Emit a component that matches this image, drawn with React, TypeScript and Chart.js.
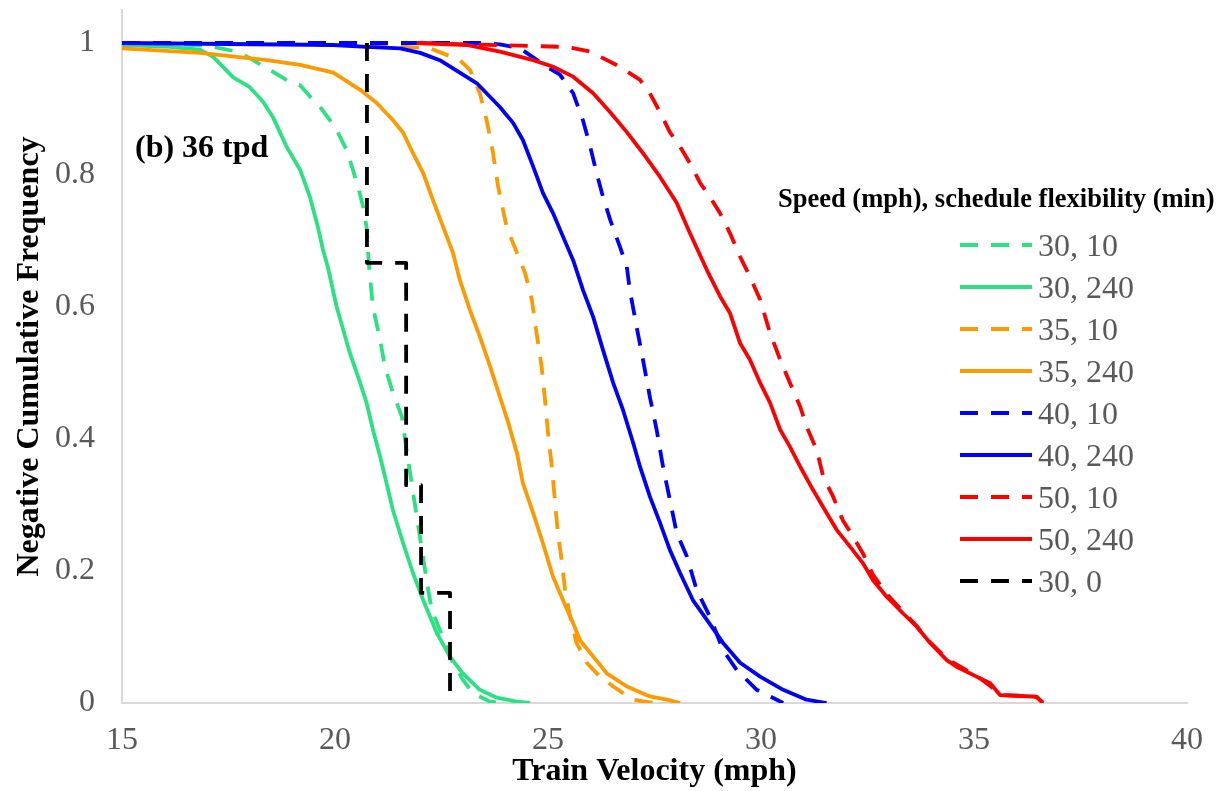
import React, { useEffect, useRef } from "react";
import { Chart, registerables } from "chart.js";

Chart.register(...registerables);

// ---------- data ----------
const seriesLabels = ["30, 10", "30, 240", "35, 10", "35, 240", "40, 10", "40, 240", "50, 10", "50, 240", "30, 0"];
const seriesColors = ["#2ae281", "#2ae281", "#ff9900", "#ff9900", "#0000ff", "#0000ff", "#ff0000", "#ff0000", "#000000"];
const seriesDashed = [true, false, true, false, true, false, true, false, true];

const xTickValues = [15, 20, 25, 30, 35, 40];
const yTickValues = [0, 0.2, 0.4, 0.6, 0.8, 1];

const xTitle = "Train Velocity (mph)";
const yTitle = "Negative Cumulative Frequency";
const legendTitle = "Speed (mph), schedule flexibility (min)";
const panelLabel = "(b) 36 tpd";

const s30_10: [number, number][] = [
  [15, 1], [16.67, 0.997], [17.07, 0.995], [17.69, 0.987], [18.0, 0.977], [18.47, 0.959], [18.94, 0.941],
  [19.18, 0.936], [19.48, 0.914], [19.65, 0.903], [19.88, 0.883], [20.04, 0.868], [20.27, 0.838], [20.42, 0.808],
  [20.54, 0.782], [20.66, 0.752], [20.74, 0.721], [20.8, 0.661], [20.89, 0.6], [21.06, 0.55], [21.17, 0.51],
  [21.36, 0.47], [21.57, 0.434], [21.68, 0.383], [21.8, 0.333], [21.92, 0.282], [22.04, 0.232], [22.15, 0.186],
  [22.27, 0.141], [22.46, 0.111], [22.7, 0.07], [23.0, 0.035], [23.24, 0.015], [23.64, 0.002], [23.94, 0],
];

const s30_240: [number, number][] = [
  [15, 0.997], [16.13, 0.994], [16.83, 0.99], [17.14, 0.979], [17.61, 0.948], [18.0, 0.933], [18.31, 0.911],
  [18.54, 0.888], [18.87, 0.842], [19.18, 0.808], [19.41, 0.767], [19.6, 0.721], [19.72, 0.686], [19.83, 0.661],
  [20.04, 0.6], [20.35, 0.53], [20.59, 0.485], [20.74, 0.455], [20.89, 0.414], [21.06, 0.373], [21.21, 0.333],
  [21.36, 0.292], [21.6, 0.242], [21.83, 0.197], [22.07, 0.156], [22.39, 0.106], [22.7, 0.07], [23.0, 0.045],
  [23.4, 0.02], [23.8, 0.008], [24.27, 0.002], [24.58, 0],
];

const s35_10: [number, number][] = [
  [15, 1], [19.95, 1], [22.23, 0.992], [22.93, 0.974], [23.17, 0.959], [23.4, 0.924], [23.56, 0.883],
  [23.71, 0.833], [23.83, 0.782], [24.03, 0.721], [24.27, 0.682], [24.46, 0.652], [24.62, 0.611], [24.73, 0.561],
  [24.85, 0.51], [24.93, 0.459], [25.0, 0.409], [25.09, 0.358], [25.16, 0.308], [25.23, 0.258], [25.32, 0.217],
  [25.4, 0.171], [25.52, 0.131], [25.67, 0.091], [25.91, 0.061], [26.14, 0.045], [26.53, 0.025], [27.0, 0.005],
  [27.46, 0],
];

const s35_240: [number, number][] = [
  [15, 0.992], [16.83, 0.985], [18.4, 0.974], [19.18, 0.967], [19.96, 0.955], [20.59, 0.929], [20.98, 0.909],
  [21.36, 0.883], [21.6, 0.864], [21.83, 0.833], [22.07, 0.803], [22.3, 0.762], [22.54, 0.721], [22.77, 0.682],
  [22.93, 0.641], [23.17, 0.595], [23.4, 0.555], [23.64, 0.51], [23.87, 0.464], [24.07, 0.424], [24.27, 0.379],
  [24.41, 0.333], [24.65, 0.288], [24.88, 0.242], [25.12, 0.191], [25.35, 0.156], [25.59, 0.121], [25.75, 0.095],
  [25.99, 0.076], [26.38, 0.045], [26.85, 0.025], [27.39, 0.01], [27.79, 0.005], [28.1, 0],
];

const s40_10: [number, number][] = [
  [15, 1], [23.4, 1], [23.87, 0.998], [24.34, 0.992], [24.97, 0.964], [25.28, 0.952], [25.59, 0.924],
  [25.82, 0.883], [25.99, 0.843], [26.14, 0.803], [26.29, 0.767], [26.46, 0.732], [26.69, 0.691], [26.85, 0.661],
  [26.92, 0.626], [27.08, 0.57], [27.23, 0.52], [27.39, 0.464], [27.55, 0.414], [27.7, 0.358], [27.86, 0.308],
  [28.02, 0.258], [28.26, 0.222], [28.49, 0.171], [28.8, 0.131], [29.11, 0.08], [29.43, 0.05], [29.9, 0.02],
  [30.52, 0],
];

const s40_240: [number, number][] = [
  [15, 1], [19.95, 0.997], [20.74, 0.994], [21.53, 0.992], [22.0, 0.985], [22.46, 0.974], [22.93, 0.955],
  [23.33, 0.939], [23.87, 0.903], [24.18, 0.879], [24.41, 0.853], [24.65, 0.813], [24.88, 0.773], [25.12, 0.742],
  [25.35, 0.707], [25.59, 0.671], [25.82, 0.626], [26.06, 0.585], [26.29, 0.535], [26.53, 0.485], [26.76, 0.444],
  [27.0, 0.394], [27.16, 0.358], [27.39, 0.313], [27.63, 0.273], [27.86, 0.232], [28.1, 0.197], [28.4, 0.156],
  [28.73, 0.126], [29.11, 0.091], [29.51, 0.061], [29.98, 0.04], [30.52, 0.02], [31.07, 0.005], [31.54, 0],
];

const s50_10: [number, number][] = [
  [21.92, 1], [25.44, 0.994], [25.99, 0.987], [26.69, 0.964], [27.16, 0.944], [27.39, 0.924], [27.63, 0.895],
  [27.86, 0.865], [28.1, 0.843], [28.33, 0.818], [28.57, 0.788], [28.8, 0.767], [29.04, 0.742], [29.27, 0.712],
  [29.51, 0.676], [29.74, 0.646], [29.98, 0.611], [30.21, 0.561], [30.45, 0.52], [30.68, 0.485], [30.92, 0.449],
  [31.07, 0.419], [31.31, 0.383], [31.46, 0.343], [31.69, 0.313], [31.92, 0.277], [32.16, 0.252], [32.39, 0.227],
  [32.63, 0.194], [32.95, 0.165], [33.33, 0.139], [33.65, 0.117], [33.97, 0.092], [34.36, 0.067], [35.06, 0.041],
  [35.38, 0.026], [35.61, 0.012], [36.0, 0.011], [36.47, 0.009], [36.62, 0],
];

const s50_240: [number, number][] = [
  [21.92, 1], [23.09, 0.997], [23.87, 0.987], [24.65, 0.974], [25.12, 0.964], [25.59, 0.949], [26.06, 0.924],
  [26.46, 0.895], [26.85, 0.865], [27.23, 0.833], [27.63, 0.797], [28.02, 0.758], [28.33, 0.712], [28.73, 0.656],
  [29.04, 0.616], [29.27, 0.591], [29.51, 0.545], [29.74, 0.52], [29.98, 0.485], [30.21, 0.455], [30.45, 0.414],
  [30.68, 0.388], [30.92, 0.358], [31.22, 0.323], [31.54, 0.288], [31.78, 0.262], [32.09, 0.237], [32.39, 0.212],
  [32.63, 0.186], [32.95, 0.161], [33.33, 0.136], [33.65, 0.116], [33.97, 0.091], [34.36, 0.065], [34.59, 0.055],
  [35.06, 0.04], [35.38, 0.03], [35.61, 0.012], [36.0, 0.011], [36.47, 0.0095], [36.62, 0],
];

const s30_0: [number, number][] = [
  [20.75, 1], [20.75, 0.667], [21.67, 0.667], [21.67, 0.33], [22.02, 0.33], [22.02, 0.167], [22.7, 0.167], [22.7, 0],
];

const seriesData = [s30_10, s30_240, s35_10, s35_240, s40_10, s40_240, s50_10, s50_240, s30_0];

// ---------- styling ----------
const SERIF = "'Liberation Serif', 'Times New Roman', serif";
const DASH = [18, 13];

const overlayPlugin = {
  id: "overlay",
  afterDraw(chart: any) {
    const ctx: CanvasRenderingContext2D = chart.ctx;
    ctx.save();
    ctx.textAlign = "left";
    ctx.textBaseline = "alphabetic";
    ctx.fillStyle = "#000000";
    ctx.font = `bold 32px ${SERIF}`;
    ctx.fillText(panelLabel, 135, 157);
    ctx.font = `bold 26.5px ${SERIF}`;
    ctx.fillText(legendTitle, 778, 207);
    chart.data.datasets.forEach((ds: any, i: number) => {
      const y = 245 + i * 42;
      ctx.beginPath();
      ctx.setLineDash(ds.borderDash || []);
      ctx.lineDashOffset = 0;
      ctx.lineCap = "butt";
      ctx.strokeStyle = ds.borderColor;
      ctx.lineWidth = 4;
      ctx.moveTo(960, y);
      ctx.lineTo(1032, y);
      ctx.stroke();
      ctx.setLineDash([]);
      ctx.font = `32px ${SERIF}`;
      ctx.fillStyle = "#595959";
      ctx.fillText(ds.label, 1038, y + 11);
    });
    ctx.restore();
  },
};

export default function App() {
  const ref = useRef<HTMLCanvasElement>(null);
  useEffect(() => {
    if (!ref.current) return;
    const n = seriesData.length;
    const datasets = seriesData.map((pts, i) => ({
      label: seriesLabels[i],
      data: pts.map(([x, y]) => ({ x, y })),
      borderColor: seriesColors[i],
      backgroundColor: seriesColors[i],
      borderWidth: 3.8,
      borderDash: seriesDashed[i] ? DASH : [],
      borderCapStyle: "butt" as const,
      borderJoinStyle: "round" as const,
      showLine: true,
      pointRadius: 0,
      pointHoverRadius: 0,
      fill: false,
      tension: 0,
      order: n - 1 - i,
    }));
    const chart = new Chart(ref.current, {
      type: "scatter",
      data: { datasets },
      options: {
        responsive: false,
        animation: false,
        events: [],
        layout: { padding: { top: 10, right: 38, left: 0, bottom: 0 } },
        plugins: { legend: { display: false }, tooltip: { enabled: false }, title: { display: false } },
        scales: {
          x: {
            type: "linear",
            min: 15,
            max: 40,
            afterBuildTicks: (scale: any) => {
              scale.ticks = xTickValues.map((v) => ({ value: v }));
            },
            afterFit: (scale: any) => {
              scale.height = 88;
              scale.paddingLeft = 0;
              scale.paddingRight = 0;
            },
            grid: { display: false, drawTicks: false },
            border: { display: true, color: "#d9d9d9", width: 2 },
            ticks: {
              color: "#595959",
              font: { family: SERIF, size: 32 },
              padding: 18,
              maxRotation: 0,
              autoSkip: false,
              callback: (v: any) => String(Number(v)),
            },
            title: {
              display: true,
              text: xTitle,
              color: "#000000",
              font: { family: SERIF, size: 32, weight: "bold" },
              padding: { top: 0, bottom: 0 },
            },
          },
          y: {
            type: "linear",
            min: 0,
            max: 1.05,
            afterBuildTicks: (scale: any) => {
              scale.ticks = yTickValues.map((v) => ({ value: v }));
            },
            afterFit: (scale: any) => {
              scale.width = 122;
              scale.paddingTop = 0;
              scale.paddingBottom = 0;
            },
            grid: { display: false, drawTicks: false },
            border: { display: true, color: "#d9d9d9", width: 2 },
            ticks: {
              color: "#595959",
              font: { family: SERIF, size: 32 },
              padding: 27,
              autoSkip: false,
              callback: (v: any) => String(Number(v)),
            },
            title: {
              display: true,
              text: yTitle,
              color: "#000000",
              font: { family: SERIF, size: 32, weight: "bold" },
              padding: { top: 11, bottom: 0 },
            },
          },
        },
      },
      plugins: [overlayPlugin],
    } as any);
    return () => chart.destroy();
  }, []);
  return (
    <div style={{ position: "fixed", left: 0, top: 0, width: 1225, height: 791, background: "#ffffff" }}>
      <canvas ref={ref} width={1225} height={791} style={{ display: "block" }} />
    </div>
  );
}
